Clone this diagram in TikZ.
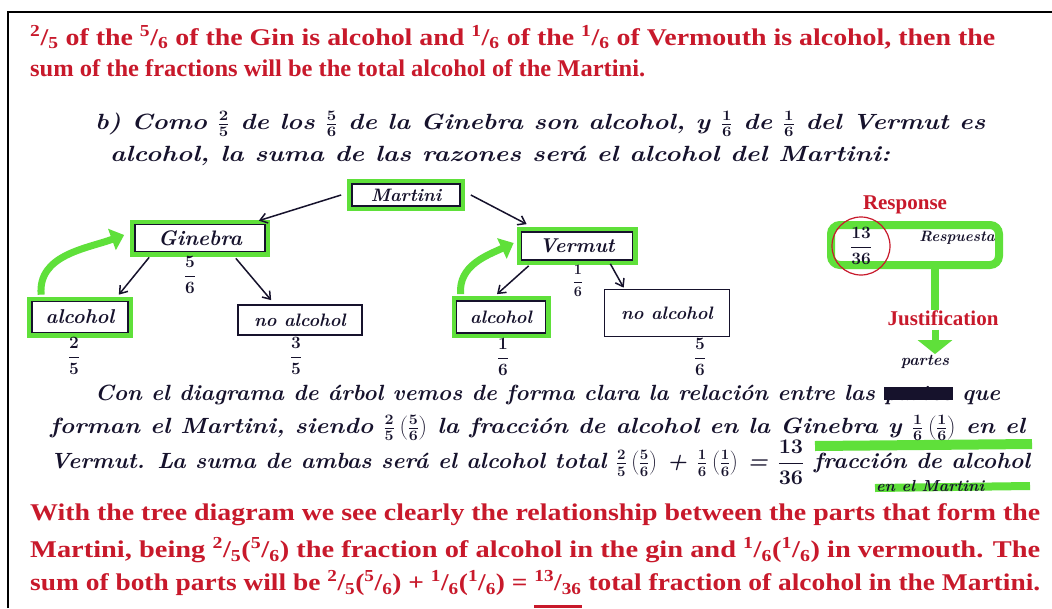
\documentclass[tikz,border=0pt]{standalone}
\usepackage{fontspec}
\usepackage{graphicx}
\usetikzlibrary{arrows.meta, positioning, calc}
\newfontfamily\redserif{Liberation Serif}
\definecolor{mred}{HTML}{C8192B}
\definecolor{mink}{HTML}{16122C}
\definecolor{mgreen}{HTML}{5FE03A}
\newcommand\rf[2]{\textsuperscript{#1}/\textsubscript{#2}}
\newcommand\fitto[2]{\resizebox{#1}{\height}{#2}}
\newcommand\scrib[1]{\sbox0{#1}\usebox0\llap{\rule[0.1ex]{\wd0}{1.3ex}}}
\newcommand\hf[2]{$\displaystyle\frac{#1}{#2}$}
\newcommand\pf[4]{$\frac{#1}{#2}\left(\frac{#3}{#4}\right)$}
\tikzset{
  redline/.style={anchor=west, inner sep=0pt, text=mred,
                  font=\redserif\bfseries\fontsize{24}{28}\selectfont},
  redhead/.style={inner sep=0pt, text=mred,
                  font=\redserif\bfseries\fontsize{21}{24}\selectfont},
  hand/.style={anchor=west, inner sep=0pt, text=mink,
               font=\bfseries\boldmath\itshape\fontsize{22}{26}\selectfont},
  hbox/.style={draw=mink, line width=1.7pt, fill=white, text=mink,
               font=\bfseries\itshape\fontsize{18}{20}\selectfont, inner sep=2pt},
  glow/.style={hbox, preaction={draw=mgreen, line width=10pt}},
  frac/.style={text=mink, inner sep=0pt, font=\bfseries\boldmath\fontsize{17}{20}\selectfont},
  arr/.style={-{Straight Barb[length=7pt,width=10pt]}, line width=1.5pt, mink},
  garr/.style={-{Triangle[length=13pt,width=22pt]}, line width=7pt, mgreen},
}

\begin{document}
\begin{tikzpicture}[x=1pt,y=-1pt]
  \useasboundingbox (0,0) rectangle (1052,608);
  \fill[white] (0,0) rectangle (1052,608);
  \draw[line width=2pt] (8,608) -- (8,12) -- (1052,12);

  % red text, top
  \node[redline] (top1) at (30,37) {\fitto{965pt}{\rf{2}{5} of the \rf{5}{6} of the Gin is alcohol and \rf{1}{6} of the \rf{1}{6} of Vermouth is alcohol, then the}};
  \node[redline] (top2) at (30,68) {\fitto{615pt}{sum of the fractions will be the total alcohol of the Martini.}};

  % handwriting, part b
  \node[hand] (hb1) at (95,124) {\fitto{890pt}{b) Como $\frac{2}{5}$ de los $\frac{5}{6}$ de la Ginebra son alcohol, y $\frac{1}{6}$ de $\frac{1}{6}$ del Vermut es}};
  \node[hand] (hb2) at (110,156) {\fitto{780pt}{alcohol, la suma de las razones será el alcohol del Martini:}};

  % tree
  \node[glow, minimum width=108pt, minimum height=22pt] (martini) at (406,195) {Martini};
  \node[glow, minimum width=130pt, minimum height=27pt, font=\bfseries\itshape\fontsize{21}{24}\selectfont] (gin) at (200,238) {Ginebra};
  \node[glow, minimum width=111pt, minimum height=28pt, font=\bfseries\itshape\fontsize{20}{24}\selectfont] (verm) at (577,246) {Vermut};
  \node[glow, minimum width=96pt, minimum height=31pt, font=\bfseries\itshape\fontsize{20}{24}\selectfont] (alcg) at (80,317) {alcohol};
  \node[hbox, minimum width=124pt, minimum height=30pt] (nalcg) at (300,320) {no alcohol};
  \node[glow, minimum width=89pt, minimum height=32pt] (alcv) at (501,317) {alcohol};
  \node[hbox, minimum width=125pt, minimum height=47pt] (nalcv) at (667,313) {no alcohol};

  \node[frac] (fgin) at (190,275) {\hf{5}{6}};
  \node[frac] (falcg) at (74,356) {\hf{2}{5}};
  \node[frac] (fnalcg) at (296,356) {\hf{3}{5}};
  \node[frac, font=\bfseries\boldmath\fontsize{14}{16}\selectfont] (fverm) at (578,281) {\hf{1}{6}};
  \node[frac] (falcv) at (503,357) {\hf{1}{6}};
  \node[frac] (fnalcv) at (700,357) {\hf{5}{6}};

  \draw[arr] ([xshift=-10pt]martini.west) -- ([xshift=-7pt,yshift=3pt]gin.north east);
  \draw[arr] ([xshift=10pt]martini.east) -- ([xshift=6pt,yshift=7pt]verm.north west);
  \draw[arr] ([xshift=15pt,yshift=-5pt]gin.south west) -- ([xshift=-10pt,yshift=6pt]alcg.north east);
  \draw[arr] ([xshift=-30pt,yshift=-6pt]gin.south east) -- ([xshift=34pt,yshift=4pt]nalcg.north west);
  \draw[arr] ([xshift=8pt,yshift=-5pt]verm.south west) -- ([xshift=-4pt,yshift=6pt]alcv.north);
  \draw[arr] ([xshift=-23pt,yshift=-3pt]verm.south east) -- ([xshift=20pt,yshift=1pt]nalcv.north west);

  \draw[garr] ([xshift=10pt,yshift=6pt]alcg.north west) to[out=95,in=200] ([xshift=-10pt,yshift=3pt]gin.west);
  \draw[garr] ([xshift=5pt,yshift=6pt]alcv.north west) to[out=95,in=205] ([xshift=-7pt,yshift=3pt]verm.west);

  % response and justification
  \node[redhead] (resp) at (905,205) {Response};
  \node[draw=mgreen, line width=8pt, rounded corners=9pt, minimum width=168pt, minimum height=40pt] (ansbox) at (915,245) {};
  \node[text=mink, font=\bfseries\itshape\fontsize{15}{18}\selectfont] (resword) at (957,238) {Respuesta};
  \node[circle, draw=mred, line width=1.2pt, minimum size=58pt, inner sep=0pt, text=mink, font=\bfseries\boldmath\fontsize{17}{20}\selectfont] (ans) at (861,246) {\hf{13}{36}};
  \node[redhead] (just) at (943,318) {Justification};
  \node[text=mink, inner sep=1pt, font=\bfseries\itshape\fontsize{16}{18}\selectfont] (partes) at (925,362) {partes};
  \draw[mgreen, line width=8pt] ([xshift=20pt]ansbox.south) -- ([xshift=-8pt]just.north);
  \draw[garr, -{Triangle[length=14pt,width=34pt]}] ([xshift=-8pt,yshift=-4pt]just.south) -- ([xshift=10pt]partes.north);

  % paragraph
  \draw[mgreen, line width=10pt] (815,446) -- (1032,444);
  \draw[mgreen, line width=8pt] (875,488) -- (1030,486);
  \node[hand] (p1) at (95,395) {\fitto{905pt}{Con el diagrama de árbol vemos de forma clara la relación entre las \scrib{partes} que}};
  \node[hand] (p2) at (50,428) {\fitto{975pt}{forman el Martini, siendo \pf{2}{5}{5}{6} la fracción de alcohol en la Ginebra y \pf{1}{6}{1}{6} en el}};
  \node[hand] (p3) at (50,462) {\fitto{980pt}{Vermut. La suma de ambas será el alcohol total \pf{2}{5}{5}{6} + \pf{1}{6}{1}{6} = \hf{13}{36} fracción de alcohol}};
  \node[hand, font=\bfseries\itshape\fontsize{16}{18}\selectfont] (p4) at (876,486) {en el Martini};

  % red text, bottom
  \node[redline] (bot1) at (30,515) {\fitto{1010pt}{With the tree diagram we see clearly the relationship between the parts that form the}};
  \node[redline] (bot2) at (30,550) {\fitto{1010pt}{Martini, being \rf{2}{5}(\rf{5}{6}) the fraction of alcohol in the gin and \rf{1}{6}(\rf{1}{6}) in vermouth. The}};
  \node[redline] (bot3) at (30,583) {\fitto{1010pt}{sum of both parts will be \rf{2}{5}(\rf{5}{6}) + \rf{1}{6}(\rf{1}{6}) = \sbox0{\rf{13}{36}}\usebox0\llap{\smash{\rule[-17pt]{\wd0}{3pt}}} total fraction of alcohol in the Martini.}};
\end{tikzpicture}
\end{document}
